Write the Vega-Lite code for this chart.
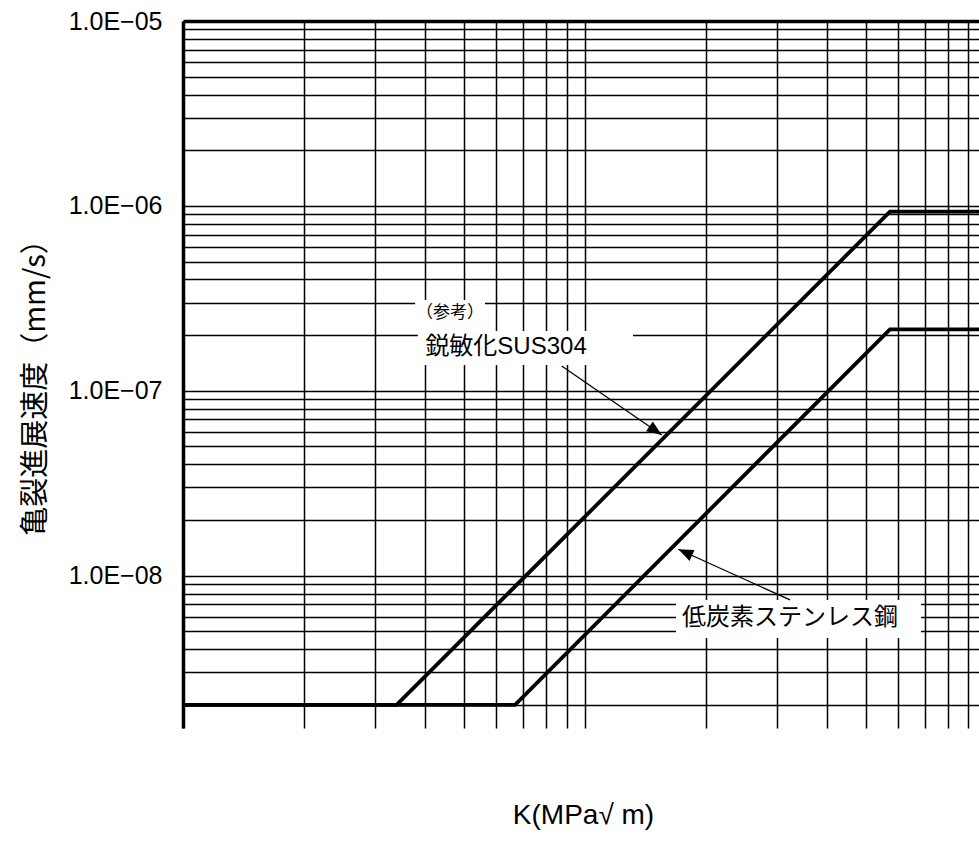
{
  "$schema": "https://vega.github.io/schema/vega-lite/v6.json",
  "width": 796,
  "height": 707,
  "autosize": {"type": "none"},
  "padding": {"left": 183, "top": 21, "right": 0, "bottom": 138},
  "background": "white",
  "config": {"view": {"stroke": null}, "font": "Liberation Sans, Noto Sans CJK JP"},
  "datasets": {
    "lines": [
      {"K": 1, "v": 2e-9, "s": "SUS304"},
      {"K": 3.40, "v": 2e-9, "s": "SUS304"},
      {"K": 57.4, "v": 9.30e-7, "s": "SUS304"},
      {"K": 95.6, "v": 9.30e-7, "s": "SUS304"},
      {"K": 1, "v": 2e-9, "s": "LC"},
      {"K": 6.70, "v": 2e-9, "s": "LC"},
      {"K": 57.4, "v": 2.15e-7, "s": "LC"},
      {"K": 95.6, "v": 2.15e-7, "s": "LC"}
    ],
    "boxes": [
      {"K": 3.78, "K2": 5.64, "v": 3.10e-7, "v2": 2.054e-7},
      {"K": 3.84, "K2": 13.17, "v": 2.105e-7, "v2": 1.378e-7},
      {"K": 16.85, "K2": 68.6, "v": 7.39e-9, "v2": 4.60e-9}
    ],
    "bigLabels": [
      {"K": 6.364, "v": 1.725e-7, "t": "鋭敏化SUS304"},
      {"K": 32.38, "v": 5.90e-9, "t": "低炭素ステンレス鋼"}
    ],
    "smallLabels": [
      {"K": 4.617, "v": 2.635e-7, "t": "（参考）"}
    ],
    "arrows": [
      {"K": 8.755, "v": 1.361e-7, "K2": 15.53, "v2": 5.77e-8},
      {"K": 32.38, "v": 7.39e-9, "K2": 17.08, "v2": 1.39e-8}
    ],
    "tip1": [{"K": 15.53, "v": 5.77e-8}],
    "tip2": [{"K": 17.08, "v": 1.39e-8}]
  },
  "encoding": {
    "x": {
      "field": "K", "type": "quantitative",
      "scale": {"type": "log", "domain": [1, 95.6], "nice": false},
      "axis": {
        "values": [1, 2, 3, 4, 5, 6, 7, 8, 9, 10, 20, 30, 40, 50, 60, 70, 80, 90],
        "grid": true, "gridColor": "black", "gridWidth": 1.5, "gridOpacity": 1,
        "labels": false, "ticks": false, "domain": false,
        "title": "K(MPa√ m)", "titleFontSize": 28, "titleFontWeight": "normal", "titleColor": "black",
        "titleX": 400, "titleY": 87, "titleBaseline": "middle", "titleAlign": "center"
      }
    },
    "y": {
      "field": "v", "type": "quantitative",
      "scale": {"type": "log", "domain": [1.5e-9, 1e-5], "nice": false},
      "axis": {
        "values": [2e-9, 3e-9, 4e-9, 5e-9, 6e-9, 7e-9, 8e-9, 9e-9,
                   1e-8, 2e-8, 3e-8, 4e-8, 5e-8, 6e-8, 7e-8, 8e-8, 9e-8,
                   1e-7, 2e-7, 3e-7, 4e-7, 5e-7, 6e-7, 7e-7, 8e-7, 9e-7,
                   1e-6, 2e-6, 3e-6, 4e-6, 5e-6, 6e-6, 7e-6, 8e-6, 9e-6, 1e-5],
        "grid": true, "gridColor": "black", "gridOpacity": 1,
        "gridWidth": {"condition": {"test": "datum.value > 9.9e-6", "value": 3.5}, "value": 1.5},
        "ticks": false, "domain": true, "domainColor": "black", "domainWidth": 3.5,
        "labelExpr": "abs(log(datum.value)/LN10 - round(log(datum.value)/LN10)) < 0.001 ? '1.0E−0' + (-round(log(datum.value)/LN10)) : ''",
        "labelFontSize": 25, "labelColor": "black", "labelPadding": 21, "labelFont": "Liberation Sans",
        "labelOverlap": false,
        "title": "亀裂進展速度（mm/s）", "titleFont": "Noto Sans CJK JP", "titleFontSize": 29,
        "titleFontWeight": "normal", "titleColor": "black",
        "titleX": -148, "titleY": 359, "titleAngle": -90, "titleBaseline": "middle", "titleAlign": "center"
      }
    }
  },
  "layer": [
    {
      "data": {"name": "lines"},
      "mark": {"type": "line", "color": "black", "strokeWidth": 3.8},
      "encoding": {"detail": {"field": "s"}}
    },
    {
      "data": {"name": "boxes"},
      "mark": {"type": "rect", "color": "white", "opacity": 1},
      "encoding": {"x2": {"field": "K2"}, "y2": {"field": "v2"}}
    },
    {
      "data": {"name": "bigLabels"},
      "mark": {"type": "text", "fontSize": 24, "color": "black", "align": "center", "baseline": "middle", "font": "Liberation Sans, Noto Sans CJK JP"},
      "encoding": {"text": {"field": "t"}}
    },
    {
      "data": {"name": "smallLabels"},
      "mark": {"type": "text", "fontSize": 17, "color": "black", "align": "center", "baseline": "middle", "font": "Noto Sans CJK JP"},
      "encoding": {"text": {"field": "t"}}
    },
    {
      "data": {"name": "arrows"},
      "mark": {"type": "rule", "color": "black", "strokeWidth": 1.3},
      "encoding": {"x2": {"field": "K2"}, "y2": {"field": "v2"}}
    },
    {
      "data": {"name": "tip1"},
      "mark": {"type": "point", "shape": "M0,0L-0.4,1L0.4,1Z", "filled": true, "color": "black", "opacity": 1, "size": 900, "angle": 124.6},
      "encoding": {}
    },
    {
      "data": {"name": "tip2"},
      "mark": {"type": "point", "shape": "M0,0L-0.4,1L0.4,1Z", "filled": true, "color": "black", "opacity": 1, "size": 900, "angle": 294.4},
      "encoding": {}
    }
  ]
}
